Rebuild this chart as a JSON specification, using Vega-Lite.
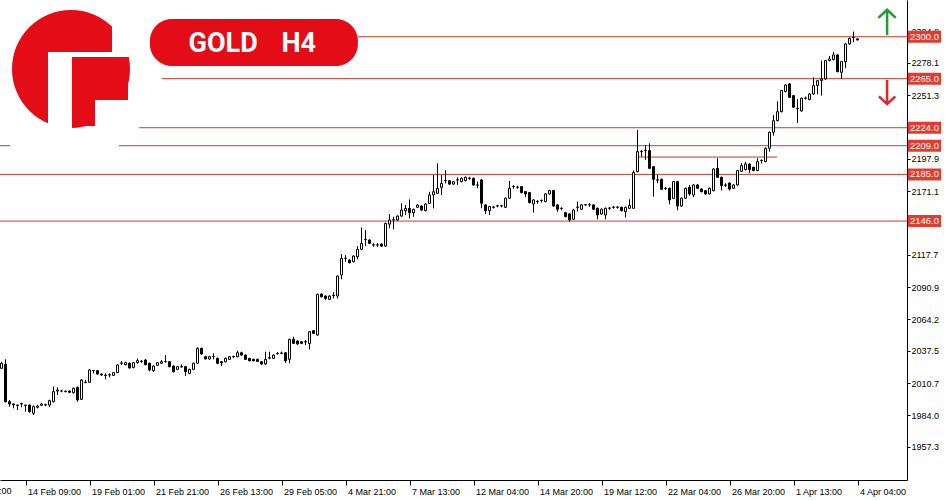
{
  "$schema": "https://vega.github.io/schema/vega-lite/v6.json",
  "width": 907,
  "height": 480,
  "autosize": {"type": "none"},
  "padding": {"left": 0, "top": 0, "right": 43, "bottom": 20},
  "background": "white",
  "config": {
    "view": {"stroke": null},
    "scale": {"continuousPadding": 0},
    "axis": {"grid": false, "domainColor": "#000", "tickColor": "#000", "labelColor": "#000", "labelFont": "Liberation Sans", "labelFontSize": 9, "zindex": 0, "labelOverlap": false, "labelBound": false, "labelFlush": false}
  },
  "datasets": {
    "candles": [
      {"k":-6,"o":2023.0,"h":2028.5,"l":2022.5,"c":2027.2},
      {"k":-5,"o":2026.3,"h":2030.5,"l":1994.5,"c":1995.1},
      {"k":-4,"o":1995.1,"h":1996.5,"l":1991.0,"c":1993.2},
      {"k":-3,"o":1993.2,"h":1993.5,"l":1989.6,"c":1992.5},
      {"k":-2,"o":1992.3,"h":1992.6,"l":1988.2,"c":1992.0},
      {"k":-1,"o":1993.2,"h":1994.3,"l":1990.4,"c":1993.5},
      {"k":0,"o":1992.3,"h":1992.5,"l":1986.8,"c":1992.0},
      {"k":1,"o":1992.3,"h":1993.0,"l":1986.0,"c":1986.8},
      {"k":2,"o":1985.4,"h":1992.0,"l":1984.0,"c":1991.0},
      {"k":3,"o":1990.4,"h":1992.5,"l":1989.5,"c":1991.5},
      {"k":4,"o":1992.1,"h":1994.3,"l":1991.5,"c":1993.2},
      {"k":5,"o":1992.3,"h":1993.5,"l":1991.5,"c":1992.6},
      {"k":6,"o":1992.3,"h":1996.8,"l":1990.5,"c":1996.0},
      {"k":7,"o":1995.1,"h":2007.7,"l":1994.5,"c":2003.5},
      {"k":8,"o":2004.0,"h":2007.1,"l":2000.7,"c":2004.9},
      {"k":9,"o":2004.0,"h":2005.0,"l":2003.0,"c":2004.2},
      {"k":10,"o":2003.5,"h":2004.5,"l":2003.0,"c":2003.8},
      {"k":11,"o":2004.0,"h":2004.5,"l":2002.5,"c":2002.9},
      {"k":12,"o":2002.6,"h":2007.0,"l":2002.0,"c":2006.3},
      {"k":13,"o":2007.1,"h":2007.8,"l":1995.1,"c":1996.5},
      {"k":14,"o":1997.1,"h":2014.0,"l":1996.5,"c":2013.2},
      {"k":15,"o":2011.0,"h":2013.2,"l":2011.0,"c":2011.3},
      {"k":16,"o":2011.3,"h":2022.3,"l":2010.8,"c":2021.6},
      {"k":17,"o":2021.0,"h":2021.6,"l":2018.8,"c":2021.2},
      {"k":18,"o":2021.0,"h":2021.6,"l":2017.8,"c":2018.2},
      {"k":19,"o":2018.2,"h":2018.8,"l":2016.8,"c":2017.4},
      {"k":20,"o":2017.4,"h":2018.8,"l":2013.8,"c":2017.1},
      {"k":21,"o":2017.4,"h":2018.8,"l":2015.5,"c":2017.6},
      {"k":22,"o":2017.1,"h":2020.0,"l":2016.6,"c":2019.4},
      {"k":23,"o":2019.4,"h":2026.5,"l":2019.0,"c":2025.8},
      {"k":24,"o":2027.2,"h":2029.0,"l":2025.8,"c":2027.5},
      {"k":25,"o":2026.0,"h":2028.5,"l":2025.5,"c":2027.7},
      {"k":26,"o":2027.2,"h":2028.0,"l":2022.7,"c":2023.3},
      {"k":27,"o":2023.8,"h":2028.3,"l":2023.0,"c":2027.7},
      {"k":28,"o":2027.7,"h":2031.0,"l":2027.0,"c":2029.4},
      {"k":29,"o":2028.8,"h":2029.8,"l":2027.5,"c":2029.0},
      {"k":30,"o":2029.9,"h":2030.8,"l":2025.5,"c":2026.0},
      {"k":31,"o":2027.2,"h":2027.7,"l":2020.5,"c":2021.6},
      {"k":32,"o":2021.0,"h":2025.5,"l":2020.0,"c":2024.9},
      {"k":33,"o":2025.5,"h":2028.3,"l":2025.0,"c":2027.7},
      {"k":34,"o":2027.2,"h":2029.8,"l":2026.7,"c":2028.5},
      {"k":35,"o":2028.5,"h":2034.1,"l":2027.8,"c":2028.8},
      {"k":36,"o":2028.5,"h":2029.0,"l":2023.8,"c":2024.4},
      {"k":37,"o":2024.9,"h":2025.5,"l":2019.5,"c":2020.2},
      {"k":38,"o":2022.1,"h":2025.0,"l":2021.5,"c":2024.4},
      {"k":39,"o":2024.4,"h":2026.3,"l":2023.5,"c":2024.2},
      {"k":40,"o":2024.4,"h":2025.0,"l":2016.6,"c":2020.2},
      {"k":41,"o":2018.8,"h":2022.7,"l":2018.0,"c":2022.1},
      {"k":42,"o":2022.1,"h":2027.8,"l":2021.5,"c":2027.2},
      {"k":43,"o":2027.2,"h":2040.5,"l":2026.5,"c":2039.7},
      {"k":44,"o":2039.7,"h":2040.3,"l":2034.3,"c":2035.0},
      {"k":45,"o":2032.7,"h":2033.5,"l":2030.5,"c":2030.8},
      {"k":46,"o":2030.8,"h":2033.5,"l":2030.2,"c":2032.7},
      {"k":47,"o":2032.7,"h":2035.5,"l":2030.5,"c":2032.9},
      {"k":48,"o":2031.3,"h":2032.0,"l":2026.5,"c":2027.2},
      {"k":49,"o":2028.5,"h":2029.0,"l":2024.9,"c":2027.5},
      {"k":50,"o":2028.5,"h":2032.0,"l":2028.0,"c":2031.3},
      {"k":51,"o":2030.5,"h":2033.3,"l":2030.0,"c":2032.7},
      {"k":52,"o":2032.5,"h":2033.5,"l":2031.8,"c":2032.9},
      {"k":53,"o":2032.7,"h":2037.7,"l":2032.2,"c":2036.0},
      {"k":54,"o":2036.0,"h":2036.9,"l":2033.5,"c":2034.1},
      {"k":55,"o":2034.1,"h":2034.7,"l":2030.0,"c":2030.5},
      {"k":56,"o":2031.3,"h":2031.8,"l":2028.8,"c":2029.3},
      {"k":57,"o":2030.5,"h":2031.0,"l":2028.8,"c":2029.3},
      {"k":58,"o":2030.5,"h":2031.0,"l":2028.3,"c":2028.8},
      {"k":59,"o":2028.5,"h":2029.0,"l":2025.7,"c":2026.6},
      {"k":60,"o":2026.6,"h":2036.9,"l":2026.0,"c":2030.5},
      {"k":61,"o":2031.5,"h":2036.9,"l":2030.5,"c":2031.8},
      {"k":62,"o":2031.3,"h":2034.7,"l":2030.8,"c":2034.1},
      {"k":63,"o":2035.2,"h":2036.5,"l":2034.5,"c":2035.5},
      {"k":64,"o":2035.5,"h":2037.0,"l":2034.8,"c":2035.8},
      {"k":65,"o":2036.0,"h":2036.5,"l":2027.5,"c":2029.3},
      {"k":66,"o":2030.5,"h":2047.8,"l":2027.1,"c":2047.2},
      {"k":67,"o":2047.2,"h":2049.4,"l":2043.2,"c":2043.8},
      {"k":68,"o":2045.8,"h":2046.4,"l":2042.7,"c":2043.3},
      {"k":69,"o":2045.2,"h":2045.8,"l":2043.2,"c":2043.8},
      {"k":70,"o":2045.2,"h":2046.6,"l":2042.5,"c":2045.0},
      {"k":71,"o":2043.6,"h":2054.2,"l":2038.8,"c":2053.6},
      {"k":72,"o":2054.4,"h":2055.0,"l":2051.6,"c":2052.2},
      {"k":73,"o":2050.8,"h":2085.4,"l":2050.2,"c":2084.8},
      {"k":74,"o":2085.0,"h":2085.6,"l":2082.2,"c":2082.8},
      {"k":75,"o":2083.4,"h":2084.0,"l":2080.0,"c":2081.4},
      {"k":76,"o":2080.6,"h":2084.0,"l":2080.0,"c":2083.4},
      {"k":77,"o":2083.8,"h":2086.8,"l":2081.4,"c":2084.1},
      {"k":78,"o":2083.4,"h":2100.7,"l":2081.4,"c":2100.1},
      {"k":79,"o":2101.0,"h":2118.5,"l":2097.3,"c":2114.8},
      {"k":80,"o":2114.8,"h":2117.6,"l":2112.1,"c":2115.0},
      {"k":81,"o":2113.4,"h":2114.0,"l":2110.6,"c":2111.2},
      {"k":82,"o":2112.1,"h":2117.4,"l":2111.5,"c":2116.8},
      {"k":83,"o":2116.2,"h":2125.1,"l":2114.0,"c":2122.4},
      {"k":84,"o":2122.4,"h":2140.7,"l":2121.8,"c":2127.4},
      {"k":85,"o":2130.5,"h":2138.5,"l":2125.1,"c":2130.8},
      {"k":86,"o":2130.2,"h":2130.8,"l":2126.8,"c":2127.4},
      {"k":87,"o":2126.0,"h":2127.5,"l":2124.5,"c":2126.2},
      {"k":88,"o":2126.0,"h":2127.5,"l":2124.5,"c":2126.2},
      {"k":89,"o":2126.8,"h":2127.4,"l":2124.5,"c":2125.1},
      {"k":90,"o":2125.1,"h":2144.7,"l":2124.5,"c":2144.1},
      {"k":91,"o":2143.5,"h":2151.9,"l":2139.9,"c":2146.9},
      {"k":92,"o":2146.9,"h":2149.6,"l":2139.1,"c":2147.1},
      {"k":93,"o":2146.9,"h":2150.8,"l":2146.3,"c":2150.2},
      {"k":94,"o":2150.2,"h":2160.8,"l":2149.6,"c":2155.2},
      {"k":95,"o":2154.7,"h":2159.4,"l":2151.0,"c":2156.6},
      {"k":96,"o":2156.6,"h":2164.1,"l":2148.3,"c":2153.0},
      {"k":97,"o":2153.0,"h":2156.4,"l":2149.6,"c":2155.8},
      {"k":98,"o":2157.5,"h":2160.0,"l":2157.0,"c":2159.4},
      {"k":99,"o":2158.6,"h":2159.2,"l":2154.6,"c":2155.2},
      {"k":100,"o":2154.7,"h":2160.8,"l":2154.1,"c":2160.2},
      {"k":101,"o":2160.8,"h":2170.5,"l":2160.2,"c":2167.8},
      {"k":102,"o":2167.8,"h":2184.5,"l":2156.6,"c":2170.5},
      {"k":103,"o":2169.2,"h":2194.2,"l":2168.6,"c":2173.3},
      {"k":104,"o":2174.2,"h":2184.5,"l":2167.8,"c":2177.5},
      {"k":105,"o":2179.7,"h":2188.6,"l":2177.5,"c":2179.9},
      {"k":106,"o":2179.7,"h":2180.3,"l":2176.3,"c":2176.9},
      {"k":107,"o":2176.9,"h":2179.5,"l":2176.3,"c":2178.9},
      {"k":108,"o":2180.3,"h":2182.6,"l":2176.2,"c":2180.5},
      {"k":109,"o":2179.0,"h":2182.4,"l":2178.4,"c":2181.8},
      {"k":110,"o":2179.8,"h":2183.2,"l":2179.2,"c":2182.6},
      {"k":111,"o":2181.7,"h":2183.0,"l":2180.5,"c":2181.9},
      {"k":112,"o":2181.8,"h":2182.4,"l":2175.6,"c":2176.2},
      {"k":113,"o":2176.2,"h":2179.0,"l":2173.4,"c":2176.0},
      {"k":114,"o":2180.4,"h":2181.0,"l":2156.7,"c":2160.9},
      {"k":115,"o":2159.5,"h":2160.1,"l":2152.0,"c":2154.7},
      {"k":116,"o":2154.7,"h":2158.7,"l":2151.1,"c":2158.1},
      {"k":117,"o":2157.5,"h":2158.5,"l":2156.5,"c":2157.7},
      {"k":118,"o":2158.6,"h":2159.5,"l":2157.5,"c":2158.8},
      {"k":119,"o":2158.6,"h":2159.5,"l":2157.5,"c":2158.8},
      {"k":120,"o":2157.5,"h":2165.7,"l":2156.9,"c":2165.1},
      {"k":121,"o":2165.1,"h":2179.5,"l":2164.5,"c":2173.4},
      {"k":122,"o":2174.8,"h":2176.0,"l":2173.0,"c":2175.0},
      {"k":123,"o":2174.2,"h":2175.5,"l":2173.0,"c":2174.4},
      {"k":124,"o":2174.8,"h":2175.4,"l":2169.2,"c":2169.8},
      {"k":125,"o":2170.6,"h":2171.2,"l":2166.0,"c":2168.7},
      {"k":126,"o":2169.8,"h":2170.4,"l":2160.8,"c":2161.4},
      {"k":127,"o":2160.3,"h":2164.3,"l":2153.1,"c":2163.7},
      {"k":128,"o":2162.3,"h":2163.5,"l":2160.5,"c":2162.5},
      {"k":129,"o":2163.1,"h":2164.0,"l":2161.5,"c":2163.3},
      {"k":130,"o":2162.3,"h":2169.3,"l":2161.7,"c":2168.7},
      {"k":131,"o":2168.7,"h":2172.1,"l":2168.1,"c":2171.5},
      {"k":132,"o":2171.5,"h":2172.1,"l":2158.0,"c":2158.6},
      {"k":133,"o":2159.5,"h":2160.1,"l":2153.8,"c":2155.9},
      {"k":134,"o":2156.7,"h":2157.5,"l":2155.0,"c":2156.5},
      {"k":135,"o":2153.1,"h":2153.7,"l":2149.1,"c":2149.7},
      {"k":136,"o":2152.0,"h":2152.6,"l":2145.6,"c":2147.0},
      {"k":137,"o":2147.5,"h":2155.9,"l":2146.9,"c":2155.3},
      {"k":138,"o":2157.5,"h":2162.3,"l":2153.9,"c":2157.7},
      {"k":139,"o":2155.9,"h":2160.1,"l":2155.3,"c":2159.5},
      {"k":140,"o":2159.5,"h":2160.3,"l":2159.0,"c":2159.7},
      {"k":141,"o":2159.5,"h":2161.0,"l":2158.0,"c":2159.7},
      {"k":142,"o":2159.5,"h":2160.1,"l":2155.3,"c":2155.9},
      {"k":143,"o":2156.7,"h":2157.3,"l":2147.5,"c":2151.1},
      {"k":144,"o":2151.9,"h":2156.5,"l":2151.3,"c":2155.9},
      {"k":145,"o":2151.1,"h":2157.3,"l":2147.5,"c":2156.7},
      {"k":146,"o":2156.7,"h":2157.8,"l":2155.5,"c":2156.9},
      {"k":147,"o":2157.5,"h":2158.6,"l":2156.4,"c":2157.7},
      {"k":148,"o":2157.5,"h":2158.6,"l":2156.4,"c":2157.7},
      {"k":149,"o":2157.5,"h":2158.1,"l":2154.1,"c":2154.7},
      {"k":150,"o":2153.9,"h":2158.1,"l":2149.2,"c":2157.5},
      {"k":151,"o":2156.7,"h":2164.2,"l":2156.1,"c":2159.0},
      {"k":152,"o":2156.7,"h":2188.2,"l":2156.1,"c":2186.5},
      {"k":153,"o":2187.3,"h":2222.1,"l":2186.7,"c":2204.0},
      {"k":154,"o":2204.0,"h":2205.4,"l":2199.9,"c":2204.2},
      {"k":155,"o":2204.9,"h":2209.6,"l":2197.1,"c":2205.1},
      {"k":156,"o":2204.9,"h":2211.0,"l":2189.5,"c":2190.1},
      {"k":157,"o":2191.4,"h":2192.0,"l":2166.4,"c":2180.9},
      {"k":158,"o":2180.4,"h":2184.5,"l":2177.6,"c":2180.2},
      {"k":159,"o":2180.9,"h":2181.5,"l":2172.0,"c":2172.6},
      {"k":160,"o":2173.4,"h":2174.5,"l":2172.0,"c":2173.2},
      {"k":161,"o":2173.4,"h":2174.0,"l":2160.0,"c":2163.7},
      {"k":162,"o":2165.0,"h":2179.6,"l":2164.4,"c":2179.0},
      {"k":163,"o":2179.0,"h":2179.6,"l":2155.0,"c":2158.6},
      {"k":164,"o":2158.6,"h":2165.7,"l":2158.0,"c":2165.1},
      {"k":165,"o":2165.1,"h":2174.0,"l":2164.5,"c":2173.4},
      {"k":166,"o":2174.2,"h":2176.2,"l":2167.3,"c":2168.7},
      {"k":167,"o":2167.8,"h":2176.8,"l":2165.9,"c":2176.2},
      {"k":168,"o":2176.2,"h":2176.8,"l":2172.8,"c":2173.4},
      {"k":169,"o":2172.8,"h":2173.4,"l":2170.0,"c":2170.6},
      {"k":170,"o":2171.4,"h":2172.0,"l":2168.1,"c":2168.7},
      {"k":171,"o":2168.7,"h":2174.0,"l":2168.1,"c":2173.4},
      {"k":172,"o":2171.4,"h":2190.1,"l":2170.8,"c":2189.5},
      {"k":173,"o":2190.1,"h":2198.5,"l":2182.0,"c":2182.6},
      {"k":174,"o":2182.6,"h":2183.2,"l":2171.5,"c":2175.6},
      {"k":175,"o":2176.2,"h":2177.5,"l":2174.5,"c":2176.0},
      {"k":176,"o":2177.8,"h":2178.4,"l":2171.5,"c":2172.8},
      {"k":177,"o":2173.4,"h":2176.8,"l":2172.8,"c":2176.2},
      {"k":178,"o":2176.2,"h":2188.8,"l":2175.6,"c":2188.2},
      {"k":179,"o":2187.6,"h":2194.5,"l":2187.0,"c":2192.3},
      {"k":180,"o":2189.0,"h":2195.5,"l":2188.4,"c":2193.7},
      {"k":181,"o":2193.7,"h":2194.3,"l":2186.0,"c":2189.0},
      {"k":182,"o":2190.9,"h":2191.5,"l":2187.6,"c":2188.2},
      {"k":183,"o":2188.2,"h":2198.5,"l":2187.6,"c":2195.7},
      {"k":184,"o":2196.5,"h":2197.5,"l":2194.0,"c":2196.7},
      {"k":185,"o":2195.7,"h":2207.4,"l":2195.1,"c":2206.8},
      {"k":186,"o":2206.8,"h":2220.8,"l":2204.0,"c":2220.2},
      {"k":187,"o":2220.2,"h":2234.5,"l":2217.4,"c":2229.9},
      {"k":188,"o":2229.9,"h":2246.0,"l":2229.3,"c":2237.4},
      {"k":189,"o":2237.4,"h":2255.6,"l":2236.8,"c":2255.0},
      {"k":190,"o":2254.2,"h":2260.3,"l":2253.6,"c":2259.7},
      {"k":191,"o":2260.6,"h":2261.2,"l":2248.8,"c":2249.4},
      {"k":192,"o":2250.8,"h":2251.4,"l":2240.5,"c":2241.1},
      {"k":193,"o":2240.2,"h":2248.0,"l":2228.0,"c":2240.0},
      {"k":194,"o":2238.0,"h":2249.2,"l":2237.4,"c":2248.6},
      {"k":195,"o":2248.6,"h":2250.0,"l":2247.5,"c":2248.8},
      {"k":196,"o":2247.5,"h":2252.8,"l":2246.9,"c":2252.2},
      {"k":197,"o":2252.2,"h":2266.1,"l":2251.6,"c":2259.2},
      {"k":198,"o":2259.2,"h":2263.9,"l":2252.0,"c":2263.3},
      {"k":199,"o":2263.5,"h":2280.1,"l":2250.8,"c":2264.7},
      {"k":200,"o":2264.7,"h":2280.7,"l":2264.1,"c":2280.1},
      {"k":201,"o":2280.1,"h":2284.0,"l":2279.5,"c":2281.4},
      {"k":202,"o":2280.9,"h":2287.0,"l":2280.3,"c":2284.8},
      {"k":203,"o":2284.8,"h":2285.4,"l":2270.3,"c":2270.9},
      {"k":204,"o":2270.3,"h":2279.8,"l":2264.7,"c":2279.2},
      {"k":205,"o":2279.2,"h":2294.6,"l":2273.7,"c":2294.0},
      {"k":206,"o":2294.0,"h":2299.3,"l":2293.4,"c":2298.7},
      {"k":207,"o":2299.4,"h":2304.3,"l":2295.4,"c":2299.6},
      {"k":208,"o":2298.2,"h":2298.5,"l":2297.0,"c":2297.3}
    ],
    "levels": [
      {"price": 2300, "from": 83.1},
      {"price": 2265, "from": 34.1},
      {"price": 2224, "from": 28.4},
      {"price": 2209, "from": 23.4},
      {"price": 2185, "from": -6.4},
      {"price": 2146, "from": -6.4}
    ],
    "segments": [
      {"price": 2209, "from": -6.4, "to": -3.9},
      {"price": 2199.5, "from": 152.9, "to": 187.9}
    ]
  },
  "layer": [
    {
      "data": {"name": "levels"},
      "mark": {"type": "rule", "color": "#d8392b", "strokeWidth": 1},
      "encoding": {
        "x": {"field": "from", "type": "quantitative", "title": null, "scale": {"domain": [-6.375, 220.375], "nice": false, "zero": false, "padding": 0},
              "axis": {"orient": "bottom", "title": null, "tickCount": 40, "values": [0,16,32,48,64,80,96,112,128,144,160,176,192,208], "labelExpr": "['14 Feb 09:00','19 Feb 01:00','21 Feb 21:00','26 Feb 13:00','29 Feb 05:00','4 Mar 21:00','7 Mar 13:00','12 Mar 04:00','14 Mar 20:00','19 Mar 12:00','22 Mar 04:00','26 Mar 20:00','1 Apr 13:00','4 Apr 04:00'][round(datum.value/16)]", "labelAlign": "left", "labelOffset": 2, "labelPadding": 2, "tickSize": 5, "labelBound": false, "labelOverlap": false, "labelFlush": false}},
        "x2": {"datum": 220.375},
        "y": {"field": "price", "type": "quantitative", "title": null, "scale": {"domain": [1929.7, 2330.7], "nice": false, "zero": false, "padding": 0},
              "axis": {"orient": "right", "title": null, "tickCount": 40, "values": [2304.8,2278.1,2251.3,2197.9,2171.1,2117.7,2090.9,2064.2,2037.5,2010.7,1984.0,1957.3], "format": ".1f", "tickSize": 3, "labelPadding": 1, "labelBaseline": "middle", "labelOverlap": false, "labelBound": false}}
      }
    },
    {
      "data": {"values": [{"k": -16, "t": "9 Feb 17:00"}]},
      "mark": {"type": "text", "font": "Liberation Sans", "fontSize": 9, "color": "#000", "align": "left", "baseline": "top", "dx": 2},
      "encoding": {
        "x": {"field": "k", "type": "quantitative", "title": null},
        "y": {"datum": 1923.6, "type": "quantitative", "title": null},
        "text": {"field": "t"}
      }
    },
    {
      "data": {"name": "segments"},
      "mark": {"type": "rule", "color": "#c7372b", "strokeWidth": 1},
      "encoding": {
        "x": {"field": "from", "type": "quantitative", "title": null},
        "x2": {"field": "to"},
        "y": {"field": "price", "type": "quantitative", "title": null}
      }
    },
    {
      "data": {"name": "candles"},
      "mark": {"type": "rule", "color": "#000", "strokeWidth": 1},
      "encoding": {
        "x": {"field": "k", "type": "quantitative", "title": null},
        "y": {"field": "l", "type": "quantitative", "title": null},
        "y2": {"field": "h"}
      }
    },
    {
      "data": {"name": "candles"},
      "mark": {"type": "bar", "orient": "vertical", "width": 2, "stroke": "#000", "strokeWidth": 1},
      "encoding": {
        "x": {"field": "k", "type": "quantitative", "title": null},
        "y": {"field": "o", "type": "quantitative", "title": null},
        "y2": {"field": "c"},
        "fill": {"condition": {"test": "datum.c >= datum.o", "value": "#ffffff"}, "value": "#000000"}
      }
    },
    {
      "data": {"name": "levels"},
      "mark": {"type": "bar", "orient": "horizontal", "height": 12, "color": "#e53b2e"},
      "encoding": {
        "x": {"datum": 220.6, "type": "quantitative", "title": null},
        "x2": {"datum": 228.9},
        "y": {"field": "price", "type": "quantitative", "title": null}
      }
    },
    {
      "data": {"name": "levels"},
      "mark": {"type": "text", "color": "#ffffff", "font": "Liberation Sans", "fontSize": 9.5, "align": "center", "baseline": "middle"},
      "encoding": {
        "x": {"datum": 224.75, "type": "quantitative", "title": null},
        "y": {"field": "price", "type": "quantitative", "title": null},
        "text": {"field": "price", "format": ".1f"}
      }
    },
    {
      "data": {"values": [{}]},
      "mark": {"type": "point", "shape": "M0,1L0,-1M-0.68,-0.36L0,-1L0.68,-0.36", "size": 650, "filled": false, "stroke": "#1f9e35", "strokeWidth": 2.5, "opacity": 1},
      "encoding": {
        "x": {"datum": 215.4, "type": "quantitative", "title": null},
        "y": {"datum": 2311.9, "type": "quantitative", "title": null}
      }
    },
    {
      "data": {"values": [{}]},
      "mark": {"type": "point", "shape": "M0,-1L0,1M-0.68,0.36L0,1L0.68,0.36", "size": 580, "filled": false, "stroke": "#e0242a", "strokeWidth": 2.5, "opacity": 1},
      "encoding": {
        "x": {"datum": 215.4, "type": "quantitative", "title": null},
        "y": {"datum": 2253.8, "type": "quantitative", "title": null}
      }
    },
    {
      "data": {"values": [{}]},
      "mark": {"type": "rect", "color": "#e30c17", "cornerRadius": 22},
      "encoding": {
        "x": {"datum": 31.1, "type": "quantitative", "title": null},
        "x2": {"datum": 83.1},
        "y": {"datum": 2314.8, "type": "quantitative", "title": null},
        "y2": {"datum": 2275.6}
      }
    },
    {
      "data": {"values": [{"t": "GOLD", "x": 49.4}, {"t": "H4", "x": 68.3}]},
      "mark": {"type": "text", "color": "#ffffff", "font": "Roboto", "fontWeight": "bold", "fontSize": 27, "align": "center", "baseline": "middle"},
      "encoding": {
        "x": {"field": "x", "type": "quantitative", "title": null},
        "y": {"datum": 2294.2, "type": "quantitative", "title": null},
        "text": {"field": "t"}
      }
    },
    {
      "data": {"values": [{}]},
      "mark": {"type": "point", "shape": "circle", "size": 13924, "filled": true, "color": "#e30c17", "opacity": 1},
      "encoding": {
        "x": {"datum": 11.375, "type": "quantitative", "title": null},
        "y": {"datum": 2273.1, "type": "quantitative", "title": null}
      }
    },
    {
      "data": {"values": [{}]},
      "mark": {"type": "rect", "color": "#ffffff"},
      "encoding": {
        "x": {"datum": 5.625, "type": "quantitative", "title": null},
        "x2": {"datum": 11.625},
        "y": {"datum": 2287.3, "type": "quantitative", "title": null},
        "y2": {"datum": 2217.9}
      }
    },
    {
      "data": {"values": [{}]},
      "mark": {"type": "rect", "color": "#ffffff"},
      "encoding": {
        "x": {"datum": 5.625, "type": "quantitative", "title": null},
        "x2": {"datum": 27.375},
        "y": {"datum": 2287.3, "type": "quantitative", "title": null},
        "y2": {"datum": 2283.1}
      }
    },
    {
      "data": {"values": [{}]},
      "mark": {"type": "rect", "color": "#ffffff"},
      "encoding": {
        "x": {"datum": 21.625, "type": "quantitative", "title": null},
        "x2": {"datum": 27.375},
        "y": {"datum": 2314.0, "type": "quantitative", "title": null},
        "y2": {"datum": 2283.1}
      }
    },
    {
      "data": {"values": [{}]},
      "mark": {"type": "rect", "color": "#ffffff"},
      "encoding": {
        "x": {"datum": 17.375, "type": "quantitative", "title": null},
        "x2": {"datum": 27.375},
        "y": {"datum": 2247.2, "type": "quantitative", "title": null},
        "y2": {"datum": 2217.9}
      }
    },
    {
      "data": {"values": [{}]},
      "mark": {"type": "rect", "color": "#e30c17"},
      "encoding": {
        "x": {"datum": 11.625, "type": "quantitative", "title": null},
        "x2": {"datum": 25.625},
        "y": {"datum": 2283.1, "type": "quantitative", "title": null},
        "y2": {"datum": 2247.2}
      }
    },
    {
      "data": {"values": [{}]},
      "mark": {"type": "rect", "color": "#e30c17"},
      "encoding": {
        "x": {"datum": 11.625, "type": "quantitative", "title": null},
        "x2": {"datum": 17.375},
        "y": {"datum": 2283.1, "type": "quantitative", "title": null},
        "y2": {"datum": 2225.4}
      }
    }
  ]
}
